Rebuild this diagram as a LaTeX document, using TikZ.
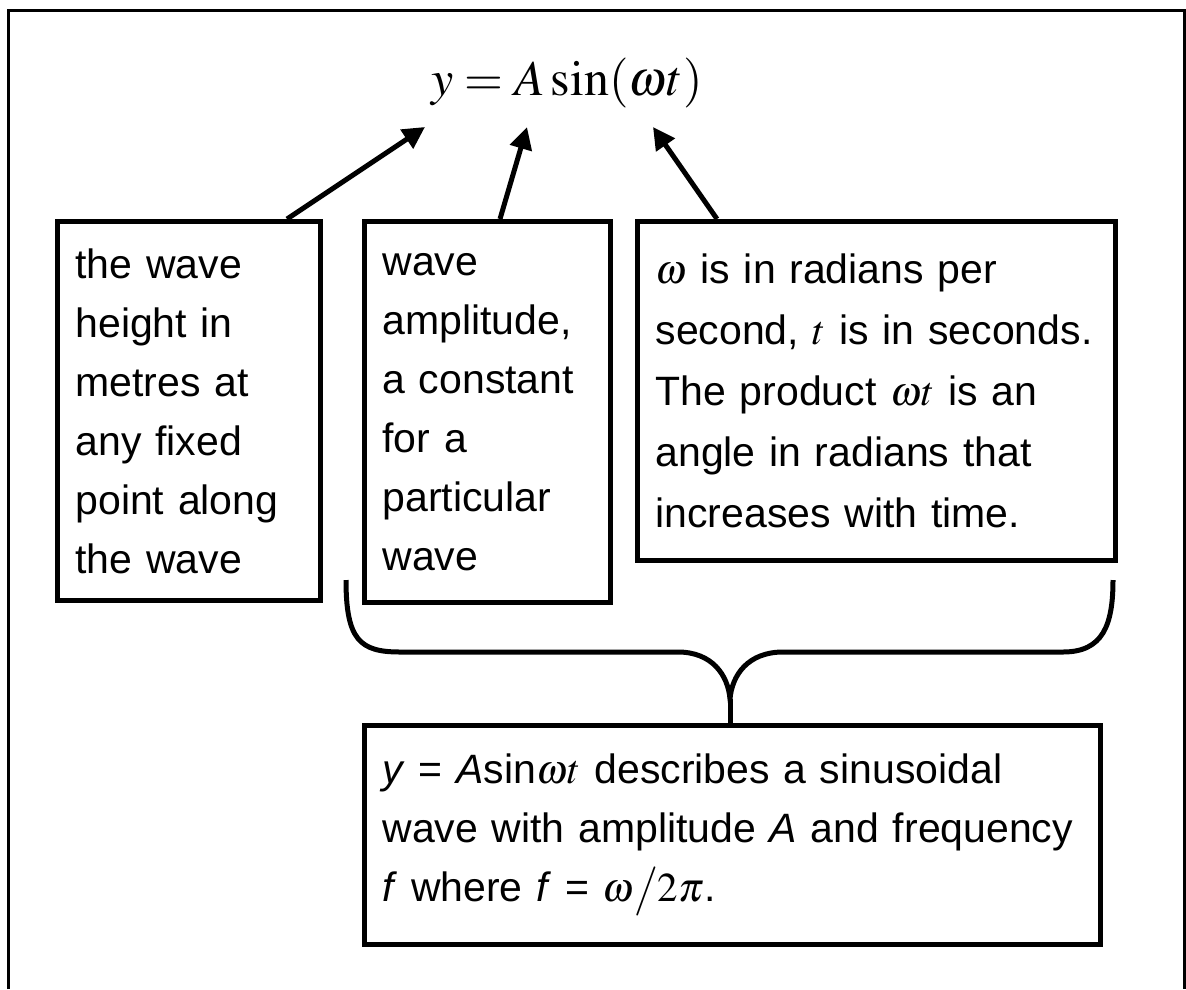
\documentclass[tikz,border=0pt]{standalone}
\usepackage{mathptmx}
\usepackage{fontspec}
\newfontfamily\boxfont{Liberation Sans}
\usetikzlibrary{arrows.meta,calc}

\begin{document}
\begin{tikzpicture}[x=1pt,y=-1pt,
  textbox/.style={draw, line width=5pt, anchor=north west, align=left, inner xsep=18pt, inner ysep=0pt, font=\boxfont\fontsize{41}{59}\selectfont},
  arr/.style={line width=5pt, -{Triangle[length=22pt,width=22pt]}}]
\useasboundingbox (0,0) rectangle (1186,989);
\draw[line width=3pt] (8,989)--(8,10)--(1184,10)--(1184,989);
\node[inner sep=0pt, font=\fontsize{50}{60}\selectfont] (eq) at (567,83) {$y = A\sin(\omega t)$};
\node[textbox, text width=227pt, minimum height=379pt] (height) at (55,219)
  {the wave\\ height in\\ metres at\\ any fixed\\ point along\\ the wave};
\node[textbox, text width=210pt, minimum height=381pt] (ampl) at (362,219)
  {wave\\ amplitude,\\ a constant\\ for a\\ particular\\ wave};
\node[textbox, text width=442pt, minimum height=339pt, font=\boxfont\fontsize{41}{61}\selectfont] (omega) at (635,219)
  {$\omega$ is in radians per\\ second, $t$ is in seconds.\\ The product $\omega t$ is an\\ angle in radians that\\ increases with time.};
\node[textbox, text width=700pt, minimum height=219pt] (sinus) at (362,723)
  {\textit{y} = \textit{A}sin$\omega t$ describes a sinusoidal\\ wave with amplitude \textit{A} and frequency\\ \textit{f} where \textit{f} = $\omega\big/2\pi$.};
% arrow tips under the formula
\coordinate (tipy) at (425,127);
\coordinate (tipa) at (527,127);
\coordinate (tipw) at (653,127);
\draw[arr] ($(height.north west)+(232,0)$) -- (tipy);
\draw[arr] ($(ampl.north west)+(138,0)$) -- (tipa);
\draw[arr] ($(omega.north west)+(82,0)$) -- (tipw);
% brace
\coordinate (bl) at (346,580);
\coordinate (br) at (1113,580);
\coordinate (bt) at (730,699);
\draw[line width=5pt] (bl) .. controls (346,640) and (360,652) .. (400,652) -- (678,652)
  .. controls (712,652) and (728,675) .. (bt)
  .. controls (732,675) and (748,652) .. (783,652) -- (1063,652)
  .. controls (1103,652) and (1113,625) .. (br);
\draw[line width=5pt] (bt) -- (sinus.north -| bt);
\end{tikzpicture}
\end{document}
